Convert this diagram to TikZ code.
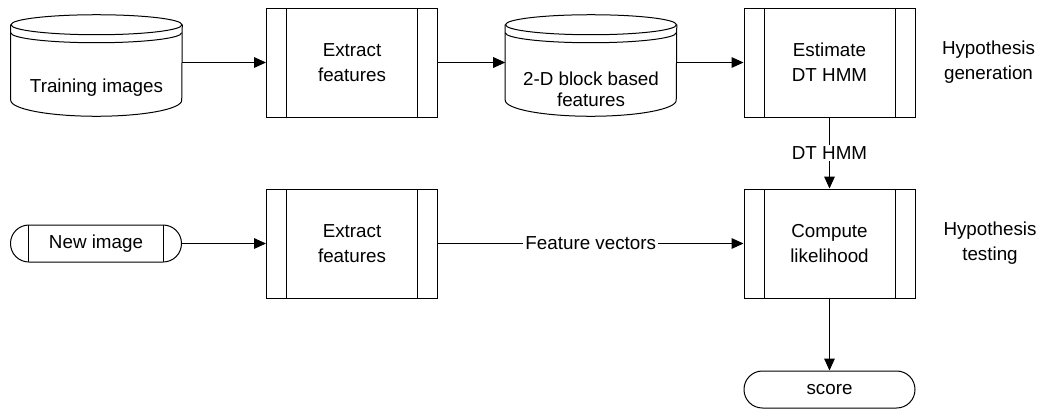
\documentclass[tikz,border=0pt]{standalone}
\usepackage{fontspec}
\setmainfont{Liberation Sans}
\usetikzlibrary{calc,arrows.meta}
\newcommand\mystore[1]{%
  \draw[line width=0.75pt] ($(#1.north west)+(0,-10)$) -- ($(#1.south west)+(0,16)$)
     arc[start angle=180,end angle=360,x radius=64.125pt,y radius=12pt] -- ($(#1.north east)+(0,-10)$);
  \draw[line width=0.75pt] ($(#1.north)+(0,-10)$) ellipse[x radius=64.125pt,y radius=7.5pt];
  \draw[line width=0.75pt] ($(#1.north west)+(0,-18)$) arc[start angle=180,end angle=360,x radius=64.125pt,y radius=7.5pt];
}
\tikzset{
  every node/.style={font=\fontsize{14.1pt}{18.75pt}\selectfont},
  proc/.style={draw, line width=0.75pt, minimum width=128.25pt, minimum height=81.75pt, align=center, inner sep=0pt,
    path picture={\draw[line width=0.75pt]
      ([xshift=15pt]path picture bounding box.north west) -- ([xshift=15pt]path picture bounding box.south west)
      ([xshift=-15pt]path picture bounding box.north east) -- ([xshift=-15pt]path picture bounding box.south east);}},
  term/.style={draw, line width=0.75pt, minimum width=128.25pt, minimum height=27.75pt, rounded corners=13.8pt, inner sep=0pt},
  termbar/.style={term, path picture={\draw[line width=0.75pt]
      ([xshift=13.5pt]path picture bounding box.north west) -- ([xshift=13.5pt]path picture bounding box.south west)
      ([xshift=-13.5pt]path picture bounding box.north east) -- ([xshift=-13.5pt]path picture bounding box.south east);}},
  store/.style={minimum width=128.25pt, minimum height=75.75pt, inner sep=0pt},
  conn/.style={line width=0.75pt, -{Triangle[length=9pt,width=8pt]}},
  lab/.style={fill=white, inner sep=1.5pt},
  txt/.style={align=center},
}
\begin{document}
\begin{tikzpicture}[x=0.75pt,y=0.75pt]
\useasboundingbox (0,0) rectangle (1043,-408);
% top row
\node[store] (train) at (96.5,-65.5) {};
\mystore{train}
\node[txt] (trainlbl) at ($(train.center)+(0,-22)$) {Training images};
\node[proc] (ext1) at (352,-62.5) {Extract\\features};
\node[store] (blk) at (591,-65.5) {};
\mystore{blk}
\node[txt, font=\fontsize{14.1pt}{16pt}\selectfont] (blklbl) at ($(blk.center)+(0,-23.5)$) {2-D block based\\features};
\node[proc] (est) at (829.5,-62.5) {Estimate\\DT HMM};
\node[txt] (hgen) at (988.5,-62.5) {Hypothesis\\generation};
% bottom row
\node[termbar] (new) at (96,-243.5) {New image};
\node[proc] (ext2) at (352,-243.5) {Extract\\features};
\node[proc] (comp) at (829.5,-243.5) {Compute\\likelihood};
\node[txt] (htest) at (990,-243.5) {Hypothesis\\testing};
\node[term] (score) at (829.5,-389.5) {score};
% connectors
\draw[conn] (train.east |- ext1.west) -- (ext1.west);
\draw[conn] (ext1.east) -- (ext1.east -| blk.west);
\draw[conn] (blk.east |- est.west) -- (est.west);
\draw[conn] (est.south) -- node[lab] (dtlbl) {DT HMM} (comp.north);
\draw[conn] (new.east |- ext2.west) -- (ext2.west);
\draw[conn] (ext2.east) -- node[lab] (fvlbl) {Feature vectors} (comp.west);
\draw[conn] (comp.south) -- (score.north);
\end{tikzpicture}
\end{document}
